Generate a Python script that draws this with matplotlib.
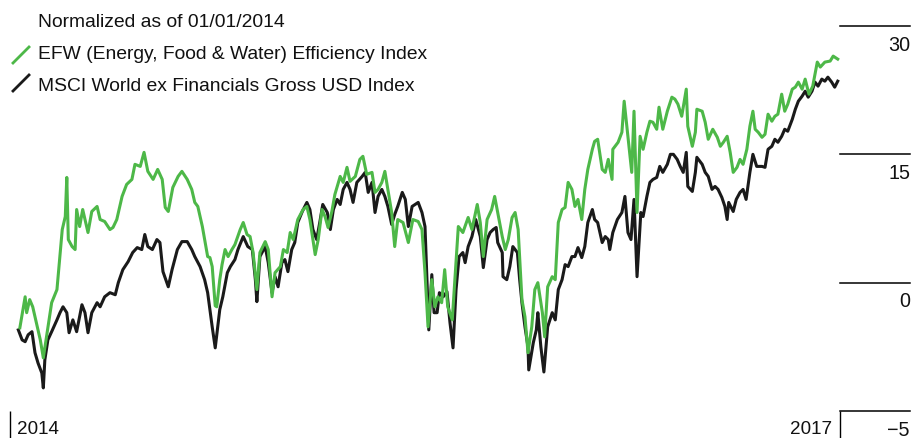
import numpy as np
import pandas as pd
import matplotlib
matplotlib.use("Agg")
import matplotlib.pyplot as plt
from matplotlib.lines import Line2D

# days since 2014-01-01 and index level
efw_days = [13, 20, 22, 26, 30, 36, 40, 44, 49, 55, 62, 69, 73, 75, 77, 82, 86, 88, 92, 96,
            103, 108, 115, 119, 125, 132, 136, 141, 148, 154, 161, 165, 172, 177, 182, 189, 195, 201, 205, 209,
            215, 222, 227, 234, 240, 244, 248, 254, 257, 261, 264, 267, 271, 273, 277, 280, 284, 288, 293, 297,
            304, 308, 313, 317, 321, 326, 330, 337, 341, 346, 350, 357, 361, 366, 370, 374, 380, 387, 392, 396,
            403, 407, 412, 416, 420, 425, 429, 436, 440, 445, 449, 456, 462, 466, 471, 478, 482, 486, 491, 495,
            499, 504, 508, 512, 519, 526, 532, 539, 544, 548, 552, 557, 561, 565, 570, 574, 578, 584, 588, 592,
            598, 605, 610, 617, 621, 625, 630, 636, 640, 644, 650, 654, 658, 663, 667, 671, 676, 680, 684, 689,
            693, 697, 703, 706, 710, 716, 720, 724, 729, 733, 737, 742, 746, 750, 755, 759, 763, 769, 772, 776,
            782, 786, 790, 795, 796, 803, 808, 811, 815, 819, 821, 824, 828, 832, 836, 841, 845, 849, 854, 857,
            862, 868, 874, 878, 882, 887, 893, 895, 901, 905, 907, 914, 918, 922, 928, 934, 938, 942, 947, 951,
            955, 960, 964, 968, 973, 977, 981, 984, 988, 993, 997, 1001, 1006, 1010, 1014, 1019, 1023, 1027, 1033, 1037,
            1041, 1046, 1050, 1055, 1060, 1066, 1070, 1076, 1083, 1087, 1093]
efw_vals = [-1.76, -0.55, -1.17, -0.66, -0.94, -1.72, -2.23, -2.93, -1.95, -0.78, -0.27, 6.21, 7.73, 12.30, 5.04, 4.22, 3.87, 8.55, 6.56, 8.55,
            5.86, 8.32, 8.91, 7.38, 7.15, 6.21, 6.45, 7.38, 10.08, 11.48, 12.07, 13.83, 13.59, 15.23, 13.01, 12.07, 13.24, 12.07, 8.79, 8.32,
            11.13, 12.42, 13.01, 12.07, 10.90, 9.38, 8.91, 6.56, 5.04, 3.05, 2.93, 1.88, -0.90, -0.94, 0.35, 2.11, 3.87, 3.05, 3.87, 4.45,
            6.21, 7.03, 5.63, 5.39, 3.52, -0.27, 3.52, 4.80, 3.87, -0.55, 1.17, 1.88, 3.87, 3.52, 5.86, 5.04, 7.38, 8.55, 8.91, 7.38,
            3.28, 5.04, 8.55, 7.73, 6.45, 8.32, 10.31, 12.42, 11.72, 13.48, 11.84, 12.42, 14.41, 14.77, 12.66, 12.89, 10.55, 10.90, 11.72, 13.01,
            10.90, 8.20, 4.22, 7.38, 7.03, 4.69, 7.38, 7.15, 6.21, 1.17, -1.72, 0.35, -0.94, -0.55, -0.78, 1.52, -0.94, -1.45, 1.17, 6.56,
            5.86, 7.62, 6.21, 9.14, 7.03, 3.05, 7.38, 8.55, 10.08, 8.20, 5.39, 3.87, 5.04, 7.62, 8.20, 6.21, -0.66, -1.33, -2.73, -1.72,
            -0.27, 0.00, -1.17, -2.11, -0.16, 0.70, 0.35, 7.03, 8.55, 8.79, 11.72, 10.90, 8.91, 9.73, 7.38, 10.90, 13.24, 15.59, 16.52, 16.76,
            13.24, 12.89, 14.41, 12.07, 15.59, 16.41, 17.58, 21.21, 17.93, 14.77, 12.89, 20.04, 8.20, 17.11, 15.59, 17.58, 18.87, 18.75, 17.93, 20.51,
            17.93, 20.04, 21.68, 21.45, 20.86, 19.45, 22.62, 18.28, 15.94, 17.58, 20.27, 20.04, 18.75, 16.76, 17.93, 16.99, 15.94, 16.41, 17.11, 15.23,
            12.89, 13.48, 14.41, 13.83, 15.59, 18.28, 20.04, 17.93, 17.58, 16.99, 17.34, 19.69, 18.87, 19.45, 19.69, 22.03, 20.04, 20.86, 22.62, 22.85,
            23.44, 22.62, 23.79, 22.03, 22.97, 25.78, 25.20, 25.78, 25.90, 26.48, 26.13]

msci_days = [11, 16, 20, 24, 29, 33, 37, 42, 44, 46, 50, 55, 62, 66, 70, 75, 78, 83, 88, 95,
             99, 103, 108, 115, 119, 125, 132, 139, 143, 149, 156, 162, 168, 174, 178, 182, 188, 194, 198, 202,
             209, 214, 221, 227, 234, 240, 244, 251, 257, 261, 267, 271, 277, 281, 287, 291, 297, 301, 308, 314,
             320, 324, 326, 330, 337, 341, 346, 350, 354, 359, 363, 367, 372, 376, 380, 386, 392, 396, 400, 405,
             409, 413, 419, 423, 427, 432, 436, 440, 445, 449, 453, 458, 465, 469, 473, 478, 482, 486, 491, 495,
             499, 504, 508, 512, 518, 522, 526, 531, 535, 539, 544, 548, 551, 553, 557, 560, 564, 567, 572, 577,
             581, 585, 589, 593, 598, 601, 605, 610, 615, 621, 625, 630, 634, 638, 642, 644, 650, 651, 656, 660,
             664, 670, 673, 676, 680, 684, 685, 691, 695, 697, 701, 705, 710, 716, 720, 724, 729, 733, 737, 742,
             746, 750, 755, 759, 763, 769, 772, 776, 782, 786, 790, 792, 796, 802, 808, 812, 816, 820, 824, 828,
             833, 836, 841, 845, 849, 854, 858, 862, 868, 872, 876, 881, 885, 889, 893, 895, 901, 905, 907, 914,
             918, 922, 927, 931, 935, 940, 944, 947, 949, 955, 959, 964, 968, 972, 977, 981, 986, 993, 997, 1001,
             1006, 1010, 1014, 1019, 1023, 1027, 1033, 1037, 1041, 1046, 1050, 1054, 1059, 1063, 1067, 1072, 1076, 1080, 1085, 1089,
             1093]
msci_vals = [-1.84, -2.23, -2.30, -2.03, -1.91, -2.73, -3.13, -3.52, -4.10, -3.01, -2.23, -1.91, -1.45, -1.17, -0.94, -1.17, -1.95, -1.45, -1.91, -0.86,
             -1.17, -1.95, -1.17, -0.78, -0.94, -0.55, -0.39, -0.47, 0.00, 1.52, 2.46, 3.52, 4.10, 3.87, 5.63, 4.22, 3.87, 5.04, 4.69, 1.29,
             -0.16, 1.52, 3.87, 4.80, 4.80, 3.87, 3.05, 1.88, 0.35, -0.39, -1.72, -2.54, -1.05, -0.55, 1.17, 1.88, 2.70, 3.87, 5.39, 4.22,
             3.87, 0.35, -0.74, 3.05, 4.22, 2.34, -0.39, 0.70, -0.16, 2.34, 2.70, 1.29, 3.87, 4.69, 7.03, 8.32, 9.38, 8.55, 6.21, 5.04,
             7.03, 9.14, 8.20, 6.21, 8.55, 9.73, 9.14, 10.90, 11.72, 10.90, 9.38, 11.72, 12.42, 12.89, 10.55, 11.72, 8.20, 10.08, 10.90, 10.08,
             8.91, 6.80, 7.97, 8.91, 10.55, 9.73, 6.56, 8.91, 9.14, 9.38, 8.20, 6.56, -0.27, -1.84, 0.94, -1.17, -1.17, -0.39, -0.55, -0.35,
             -1.56, -2.54, -0.27, 3.05, 3.52, 2.34, 4.22, 5.39, 7.38, 5.39, 1.76, 5.04, 5.86, 6.21, 6.45, 4.69, 3.52, 0.70, 0.35, 1.88,
             4.22, 3.52, 0.35, -0.78, -1.72, -2.50, -3.40, -2.34, -1.84, -1.17, -2.50, -3.48, -1.72, -1.17, -1.45, -0.27, 0.35, 2.11, 1.88, 3.05,
             3.05, 4.10, 2.93, 4.22, 7.03, 8.55, 7.38, 7.03, 4.69, 5.39, 5.04, 3.87, 5.86, 7.38, 8.20, 10.08, 5.86, 5.04, 9.73, 0.70,
             8.20, 7.73, 10.08, 11.72, 12.07, 12.30, 13.59, 12.89, 13.83, 15.00, 15.00, 14.41, 13.59, 12.89, 15.23, 11.25, 10.66, 12.89, 14.65, 13.83,
             12.89, 12.42, 10.90, 11.25, 10.90, 9.96, 8.91, 7.38, 9.38, 8.32, 9.73, 10.55, 10.90, 9.73, 12.89, 15.00, 13.59, 13.59, 13.48, 15.59,
             15.94, 16.76, 16.41, 17.11, 17.93, 17.70, 19.10, 20.27, 21.21, 21.80, 22.38, 21.68, 22.38, 23.44, 22.97, 23.79, 23.55, 24.02, 23.44, 22.85,
             23.55]

y_ticks = [30, 15, 0, -5]
y_tick_labels = ["30", "15", "0", "\u22125"]
year_labels = ["2014", "2017"]
title = "Normalized as of 01/01/2014"
efw_label = "EFW (Energy, Food & Water) Efficiency Index"
msci_label = "MSCI World ex Financials Gross USD Index"

GREEN = "#4db848"
BLACK = "#1a1a1a"
TEXT = "#111111"
FS = 13.9

plt.rcParams["font.family"] = ["Liberation Sans", "DejaVu Sans"]

start = pd.Timestamp("2014-01-01")
efw_dates = start + pd.to_timedelta(efw_days, unit="D")
msci_dates = start + pd.to_timedelta(msci_days, unit="D")
year_dates = [pd.Timestamp(f"{y}-01-01") for y in year_labels]


# the value axis below zero is stretched (one band = 5 instead of 15)
def _fwd(y):
    y = np.asarray(y, dtype=float)
    return np.where(y >= 0, y, 3 * y)


def _inv(y):
    y = np.asarray(y, dtype=float)
    return np.where(y >= 0, y, y / 3)


W, H = 924, 438
fig = plt.figure(figsize=(W / 100, H / 100), dpi=100)
ax = fig.add_axes([10 / W, (H - 411) / H, 900 / W, 385 / H])

ax.plot(msci_dates, msci_vals, color=BLACK, linewidth=2.2, solid_joinstyle="round")
ax.plot(efw_dates, efw_vals, color=GREEN, linewidth=2.2, solid_joinstyle="round")

ax.set_yscale("function", functions=(_fwd, _inv))
ax.set_ylim(-5, 30)
span = (year_dates[1] - year_dates[0]) * (900 / 830)
ax.set_xlim(year_dates[0], year_dates[0] + span)

for s in ax.spines.values():
    s.set_visible(False)
ax.set_yticks([])
ax.set_xticks(year_dates)
ax.set_xticklabels(["", ""])
ax.tick_params(axis="x", length=19.5, width=1.0, color="black", direction="out")

grid_x0 = 830 / 900
for v, lab in zip(y_ticks, y_tick_labels):
    ax.axhline(v, xmin=grid_x0, xmax=1.0, color="black", linewidth=1.1, clip_on=False)
    ax.annotate(lab, xy=(1.0, v), xycoords=("axes fraction", "data"),
                xytext=(0, -7), textcoords="offset points",
                ha="right", va="top", fontsize=FS + 0.3, color=TEXT)

ax.annotate(year_labels[0], xy=(year_dates[0], 0), xycoords=("data", "axes fraction"),
            xytext=(5, -7), textcoords="offset points", ha="left", va="top",
            fontsize=FS - 0.3, color=TEXT)
ax.annotate(year_labels[1], xy=(year_dates[1], 0), xycoords=("data", "axes fraction"),
            xytext=(-5.5, -7), textcoords="offset points", ha="right", va="top",
            fontsize=FS - 0.3, color=TEXT)

# legend block, top left
fig.text(38 / W, 1 - 27 / H, title, fontsize=FS, va="baseline", color=TEXT)
fig.text(38 / W, 1 - 59 / H, efw_label, fontsize=FS, va="baseline", color=TEXT)
fig.text(38 / W, 1 - 91 / H, msci_label, fontsize=FS, va="baseline", color=TEXT)
fig.add_artist(Line2D([13 / W, 29 / W], [1 - 63 / H, 1 - 47 / H], transform=fig.transFigure,
                      color=GREEN, linewidth=2.0))
fig.add_artist(Line2D([13 / W, 29 / W], [1 - 91 / H, 1 - 75 / H], transform=fig.transFigure,
                      color=BLACK, linewidth=2.0))

fig.savefig("out.png", dpi=100)
